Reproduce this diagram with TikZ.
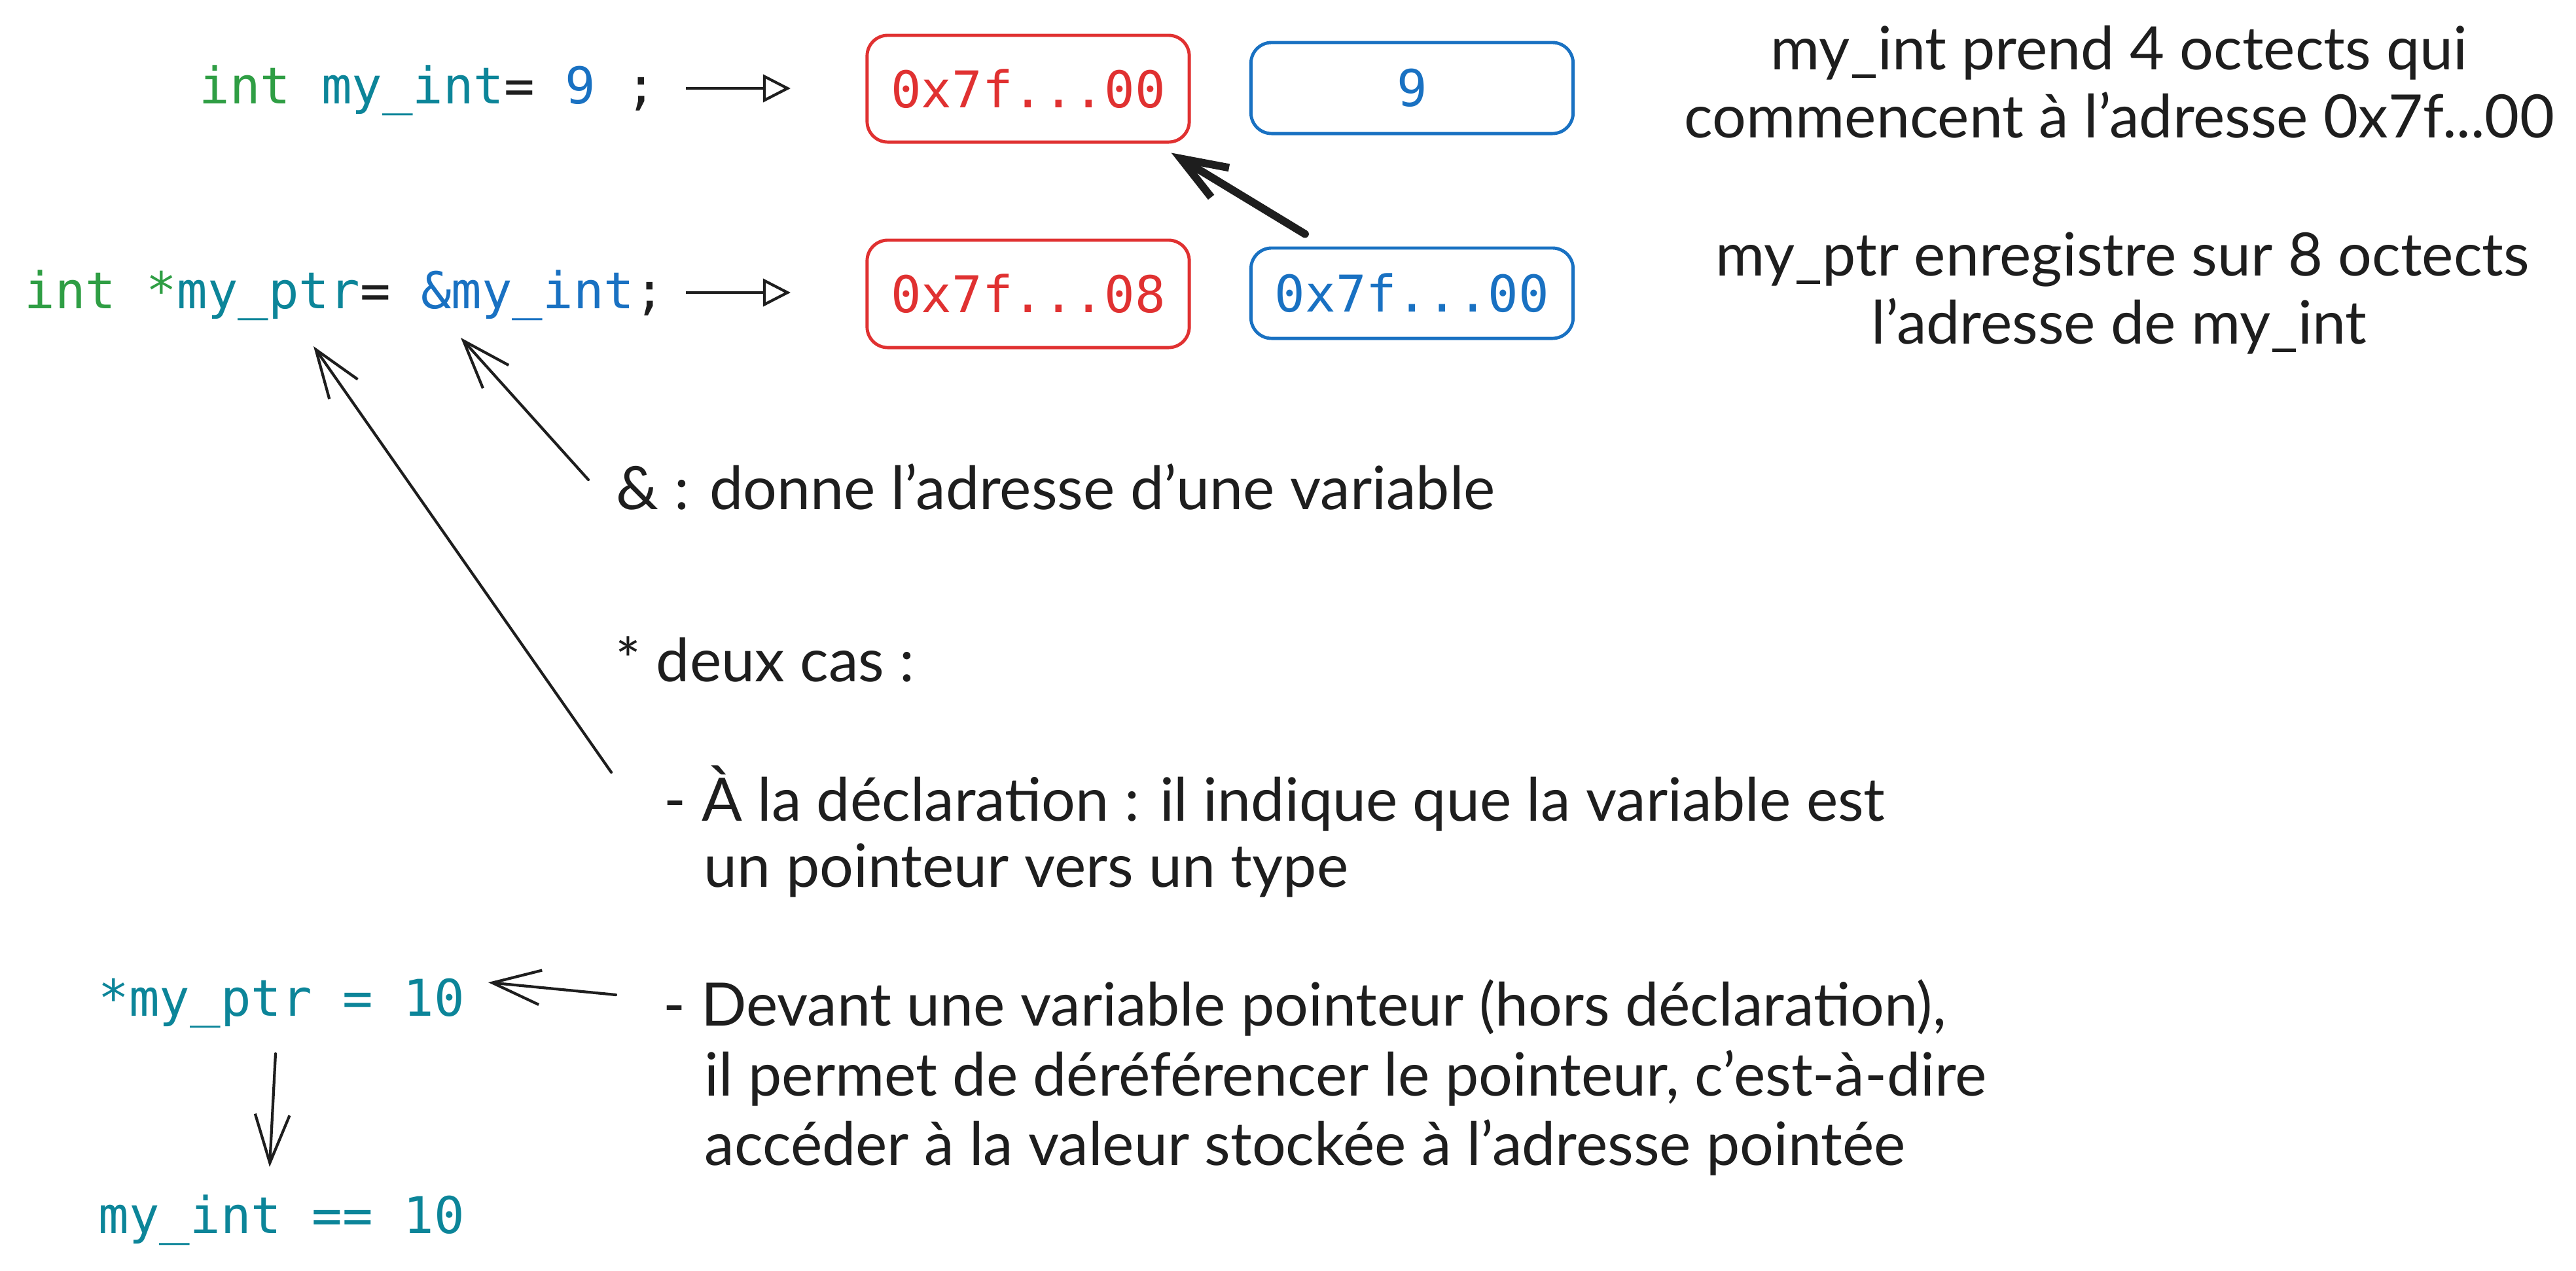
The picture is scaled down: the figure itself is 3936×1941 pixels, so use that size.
\documentclass[tikz,border=0pt]{standalone}
\usepackage{fontspec}
\setmainfont{Lato}
\newfontfamily\codefont{DejaVu Sans Mono}
\usetikzlibrary{arrows.meta}

\definecolor{Ink}{HTML}{1E1E1E}
\definecolor{Kw}{HTML}{2F9E44}
\definecolor{Var}{HTML}{0C8599}
\definecolor{Val}{HTML}{1971C2}
\definecolor{Addr}{HTML}{E03131}

\begin{document}
\begin{tikzpicture}[x=0.01cm, y=-0.01cm,
  code/.style={font=\codefont\fontsize{22}{26}\selectfont, inner sep=0, anchor=base west},
  hand/.style={font=\fontsize{26}{30}\selectfont, text=Ink, inner sep=0, anchor=base west},
  cell/.style={draw, rounded corners=9pt, line width=1.4pt, inner sep=0,
    font=\codefont\fontsize{22}{26}\selectfont, minimum width=4.92cm},
  codearrow/.style={draw=Ink, line width=1.2pt, -{Triangle[open, length=12pt, width=12pt]}},
  barb/.style={draw=Ink, line width=1.2pt, line cap=round, -{Straight Barb[length=21pt, width=15pt]}},
  bigbarb/.style={draw=Ink, line width=3.4pt, line cap=round, -{Straight Barb[length=20pt, width=15pt]}}]

 \useasboundingbox (0,0) rectangle (3936,1941);

  %%%%%%%%%% Points pour les fleches %%%%%%%%%%
 \coordinate (a1) at (1048,135);
 \coordinate (a2) at (1208,135);
 \coordinate (a3) at (1048,447);
 \coordinate (a4) at (1208,447);
 \coordinate (amp) at (899,733);
 \coordinate (ampto) at (704,516);
 \coordinate (star) at (934,1180);
 \coordinate (starto) at (479,529);
 \coordinate (deref) at (941,1520);
 \coordinate (derefto) at (746,1501);
 \coordinate (down) at (421,1610);
 \coordinate (downto) at (412,1783);

 %%%%%%%%%% Code %%%%%%%%%%
 \node[code] (decl) at (304,158) {\textcolor{Kw}{int} \textcolor{Var}{my\_int}\textcolor{Ink}{=} \textcolor{Val}{9} \textcolor{Ink}{;}};
 \node[code] (ptrdecl) at (37,471) {\textcolor{Kw}{int *}\textcolor{Var}{my\_ptr}\textcolor{Ink}{=} \textcolor{Val}{\&my\_int}\textcolor{Ink}{;}};
 \node[code, text=Var] (store) at (150,1552) {*my\_ptr = 10};
 \node[code, text=Var] (check) at (150,1884) {my\_int == 10};

 %%%%%%%%%% Memoire %%%%%%%%%%
 \node[cell, draw=Addr, text=Addr, minimum height=1.63cm] (addrint) at (1571,135.5) {0x7f...00};
 \node[cell, draw=Val, text=Val, minimum height=1.39cm] (valint) at (2157.5,134.5) {9};
 \node[cell, draw=Addr, text=Addr, minimum height=1.64cm] (addrptr) at (1571,449) {0x7f...08};
 \node[cell, draw=Val, text=Val, minimum height=1.38cm] (valptr) at (2157.5,448) {0x7f...00};

 %%%%%%%%%% Explications %%%%%%%%%%
 \node[hand, anchor=base] (int1) at (3238,106) {my\_int prend 4 octects qui};
 \node[hand, anchor=base] (int2) at (3238,210) {commencent à l'adresse 0x7f...00};
 \node[hand, anchor=base] (ptr1) at (3243,421) {my\_ptr enregistre sur 8 octects};
 \node[hand, anchor=base] (ptr2) at (3238,525) {l'adresse de my\_int};

 \node[hand] (ampnote) at (941,778) {\& : donne l'adresse d'une variable};
 \node[hand] (starnote) at (940,1041) {* deux cas :};
 \node[hand] (case1) at (1014,1254) {- À la déclaration : il indique que la variable est};
 \node[hand] (case1b) at (1075,1355) {un pointeur vers un type};
 \node[hand] (case2) at (1013,1567) {- Devant une variable pointeur (hors déclaration),};
 \node[hand] (case2b) at (1076,1674) {il permet de déréférencer le pointeur, c'est-à-dire};
 \node[hand] (case2c) at (1076,1780) {accéder à la valeur stockée à l'adresse pointée};

 %%%%%%%%%% Fleches %%%%%%%%%%
 \draw[codearrow] (a1) -- (a2);
 \draw[codearrow] (a3) -- (a4);
 \draw[bigbarb] ([shift={(85,-19)}]valptr.north west) -- ([shift={(-30,14)}]addrint.south east);
 \draw[barb] (amp) -- (ampto);
 \draw[barb] (star) -- (starto);
 \draw[barb] (deref) -- (derefto);
 \draw[barb] (down) -- (downto);

\end{tikzpicture}
\end{document}
